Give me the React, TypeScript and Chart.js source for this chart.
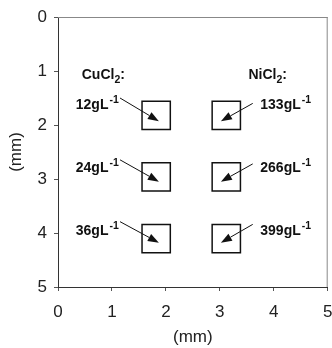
import React, { useEffect, useRef } from 'react';
import { Chart, registerables } from 'chart.js';
Chart.register(...registerables);

// Square (sample) centres in mm
const squareX = [1.82, 1.82, 1.82, 3.12, 3.12, 3.12];
const squareY = [1.82, 2.96, 4.105, 1.82, 2.96, 4.105];
// Group headers
const groupNames = ['CuCl', 'NiCl'];
const groupSub = ['2', '2'];
const groupX = [0.44, 3.53];
const groupY = [1.15, 1.15];
// Concentration labels
const concValues = ['12', '24', '36', '133', '266', '399'];
const concUnit = 'gL';
const concExp = '-1';
const labelX = [0.33, 0.33, 0.33, 3.75, 3.75, 3.75];
const labelY = [1.71, 2.87, 4.04, 1.71, 2.87, 4.04];
// Arrows (tail -> tip) in mm
const arrowFromX = [1.15, 1.15, 1.15, 3.61, 3.61, 3.61];
const arrowFromY = [1.5, 2.645, 3.79, 1.6, 2.72, 3.84];
const arrowToX = [1.87, 1.87, 1.87, 3.02, 3.02, 3.02];
const arrowToY = [1.93, 3.05, 4.18, 1.93, 3.05, 4.18];
// Axes
const axisMin = 0;
const axisMax = 5;
const axisTitle = '(mm)';

const FONT = "'Liberation Sans', Arial, sans-serif";

type Part = [string, 'n' | 'sub' | 'sup'];

function drawRich(ctx: CanvasRenderingContext2D, x: number, y: number, parts: Part[]) {
  let cx = x;
  ctx.textAlign = 'left';
  ctx.textBaseline = 'alphabetic';
  ctx.fillStyle = '#111';
  for (const [t, k] of parts) {
    if (k === 'n') {
      ctx.font = `bold 14px ${FONT}`;
      ctx.fillText(t, cx, y);
    } else if (k === 'sub') {
      ctx.font = `bold 10.5px ${FONT}`;
      ctx.fillText(t, cx, y + 4);
    } else {
      ctx.font = `bold 10.5px ${FONT}`;
      ctx.fillText(t, cx + 1, y - 6);
      cx += 1;
    }
    cx += ctx.measureText(t).width;
  }
}

const annotationPlugin = {
  id: 'annotations',
  afterDatasetsDraw(chart: any) {
    const { ctx, chartArea, scales } = chart;
    const xs = scales.x;
    const ys = scales.y;
    ctx.save();
    // frame top/right
    ctx.strokeStyle = '#888';
    ctx.lineWidth = 1;
    ctx.beginPath();
    ctx.moveTo(chartArea.left, chartArea.top + 0.5);
    ctx.lineTo(chartArea.right, chartArea.top + 0.5);
    ctx.moveTo(chartArea.right - 0.5, chartArea.top);
    ctx.lineTo(chartArea.right - 0.5, chartArea.bottom);
    ctx.stroke();

    // arrows
    ctx.strokeStyle = '#111';
    ctx.fillStyle = '#111';
    for (let i = 0; i < arrowFromX.length; i++) {
      const x1 = xs.getPixelForValue(arrowFromX[i]);
      const y1 = ys.getPixelForValue(arrowFromY[i]);
      const x2 = xs.getPixelForValue(arrowToX[i]);
      const y2 = ys.getPixelForValue(arrowToY[i]);
      const ang = Math.atan2(y2 - y1, x2 - x1);
      const hl = 11;
      const hw = 4;
      const bx = x2 - hl * Math.cos(ang);
      const by = y2 - hl * Math.sin(ang);
      ctx.lineWidth = 1;
      ctx.beginPath();
      ctx.moveTo(x1, y1);
      ctx.lineTo(bx, by);
      ctx.stroke();
      ctx.beginPath();
      ctx.moveTo(x2, y2);
      ctx.lineTo(bx + hw * Math.sin(ang), by - hw * Math.cos(ang));
      ctx.lineTo(bx - hw * Math.sin(ang), by + hw * Math.cos(ang));
      ctx.closePath();
      ctx.fill();
    }

    // group headers
    for (let i = 0; i < groupNames.length; i++) {
      drawRich(ctx, xs.getPixelForValue(groupX[i]), ys.getPixelForValue(groupY[i]), [
        [groupNames[i], 'n'],
        [groupSub[i], 'sub'],
        [':', 'n'],
      ]);
    }
    // concentration labels
    for (let i = 0; i < concValues.length; i++) {
      drawRich(ctx, xs.getPixelForValue(labelX[i]), ys.getPixelForValue(labelY[i]), [
        [concValues[i] + concUnit, 'n'],
        [concExp, 'sup'],
      ]);
    }
    ctx.restore();
  },
};

export default function App() {
  const ref = useRef<HTMLCanvasElement>(null);
  useEffect(() => {
    document.body.style.margin = '0';
    const chart = new Chart(ref.current!, {
      type: 'scatter',
      data: {
        datasets: [
          {
            data: squareX.map((x, i) => ({ x, y: squareY[i] })),
            pointStyle: 'rect',
            pointRadius: 20,
            pointHoverRadius: 20,
            borderColor: '#111',
            borderWidth: 1.5,
            backgroundColor: 'rgba(0,0,0,0)',
          },
        ],
      },
      options: {
        animation: false,
        responsive: true,
        maintainAspectRatio: false,
        events: [],
        layout: { autoPadding: false, padding: { top: 17, right: 4.3, left: 0, bottom: 0 } },
        plugins: { legend: { display: false }, tooltip: { enabled: false } },
        scales: {
          x: {
            type: 'linear',
            position: 'bottom',
            min: axisMin,
            max: axisMax,
            ticks: { stepSize: 1, color: '#222', font: { size: 17, family: FONT }, padding: 11 },
            grid: { drawOnChartArea: false, drawTicks: true, tickLength: 4, color: '#555' },
            border: { color: '#333', width: 1 },
            title: { display: true, text: axisTitle, color: '#222', font: { size: 17, family: FONT }, padding: { top: 0, bottom: 0 } },
            afterFit: (s: any) => { s.height = 61; s.paddingRight = 4.3; s.paddingLeft = 0; },
          },
          y: {
            type: 'linear',
            reverse: true,
            min: axisMin,
            max: axisMax,
            ticks: { stepSize: 1, color: '#222', font: { size: 17, family: FONT }, padding: 7 },
            grid: { drawOnChartArea: false, drawTicks: true, tickLength: 4, color: '#555' },
            border: { color: '#333', width: 1 },
            title: { display: true, text: axisTitle, color: '#222', font: { size: 17, family: FONT }, padding: { top: 6, bottom: 6 } },
            afterFit: (s: any) => { s.width = 58; s.paddingTop = 0; s.paddingBottom = 0; },
          },
        },
      },
      plugins: [annotationPlugin],
    } as any);
    return () => chart.destroy();
  }, []);
  return (
    <div style={{ position: 'absolute', left: 0, top: 0, width: 332, height: 348 }}>
      <canvas ref={ref} />
    </div>
  );
}
